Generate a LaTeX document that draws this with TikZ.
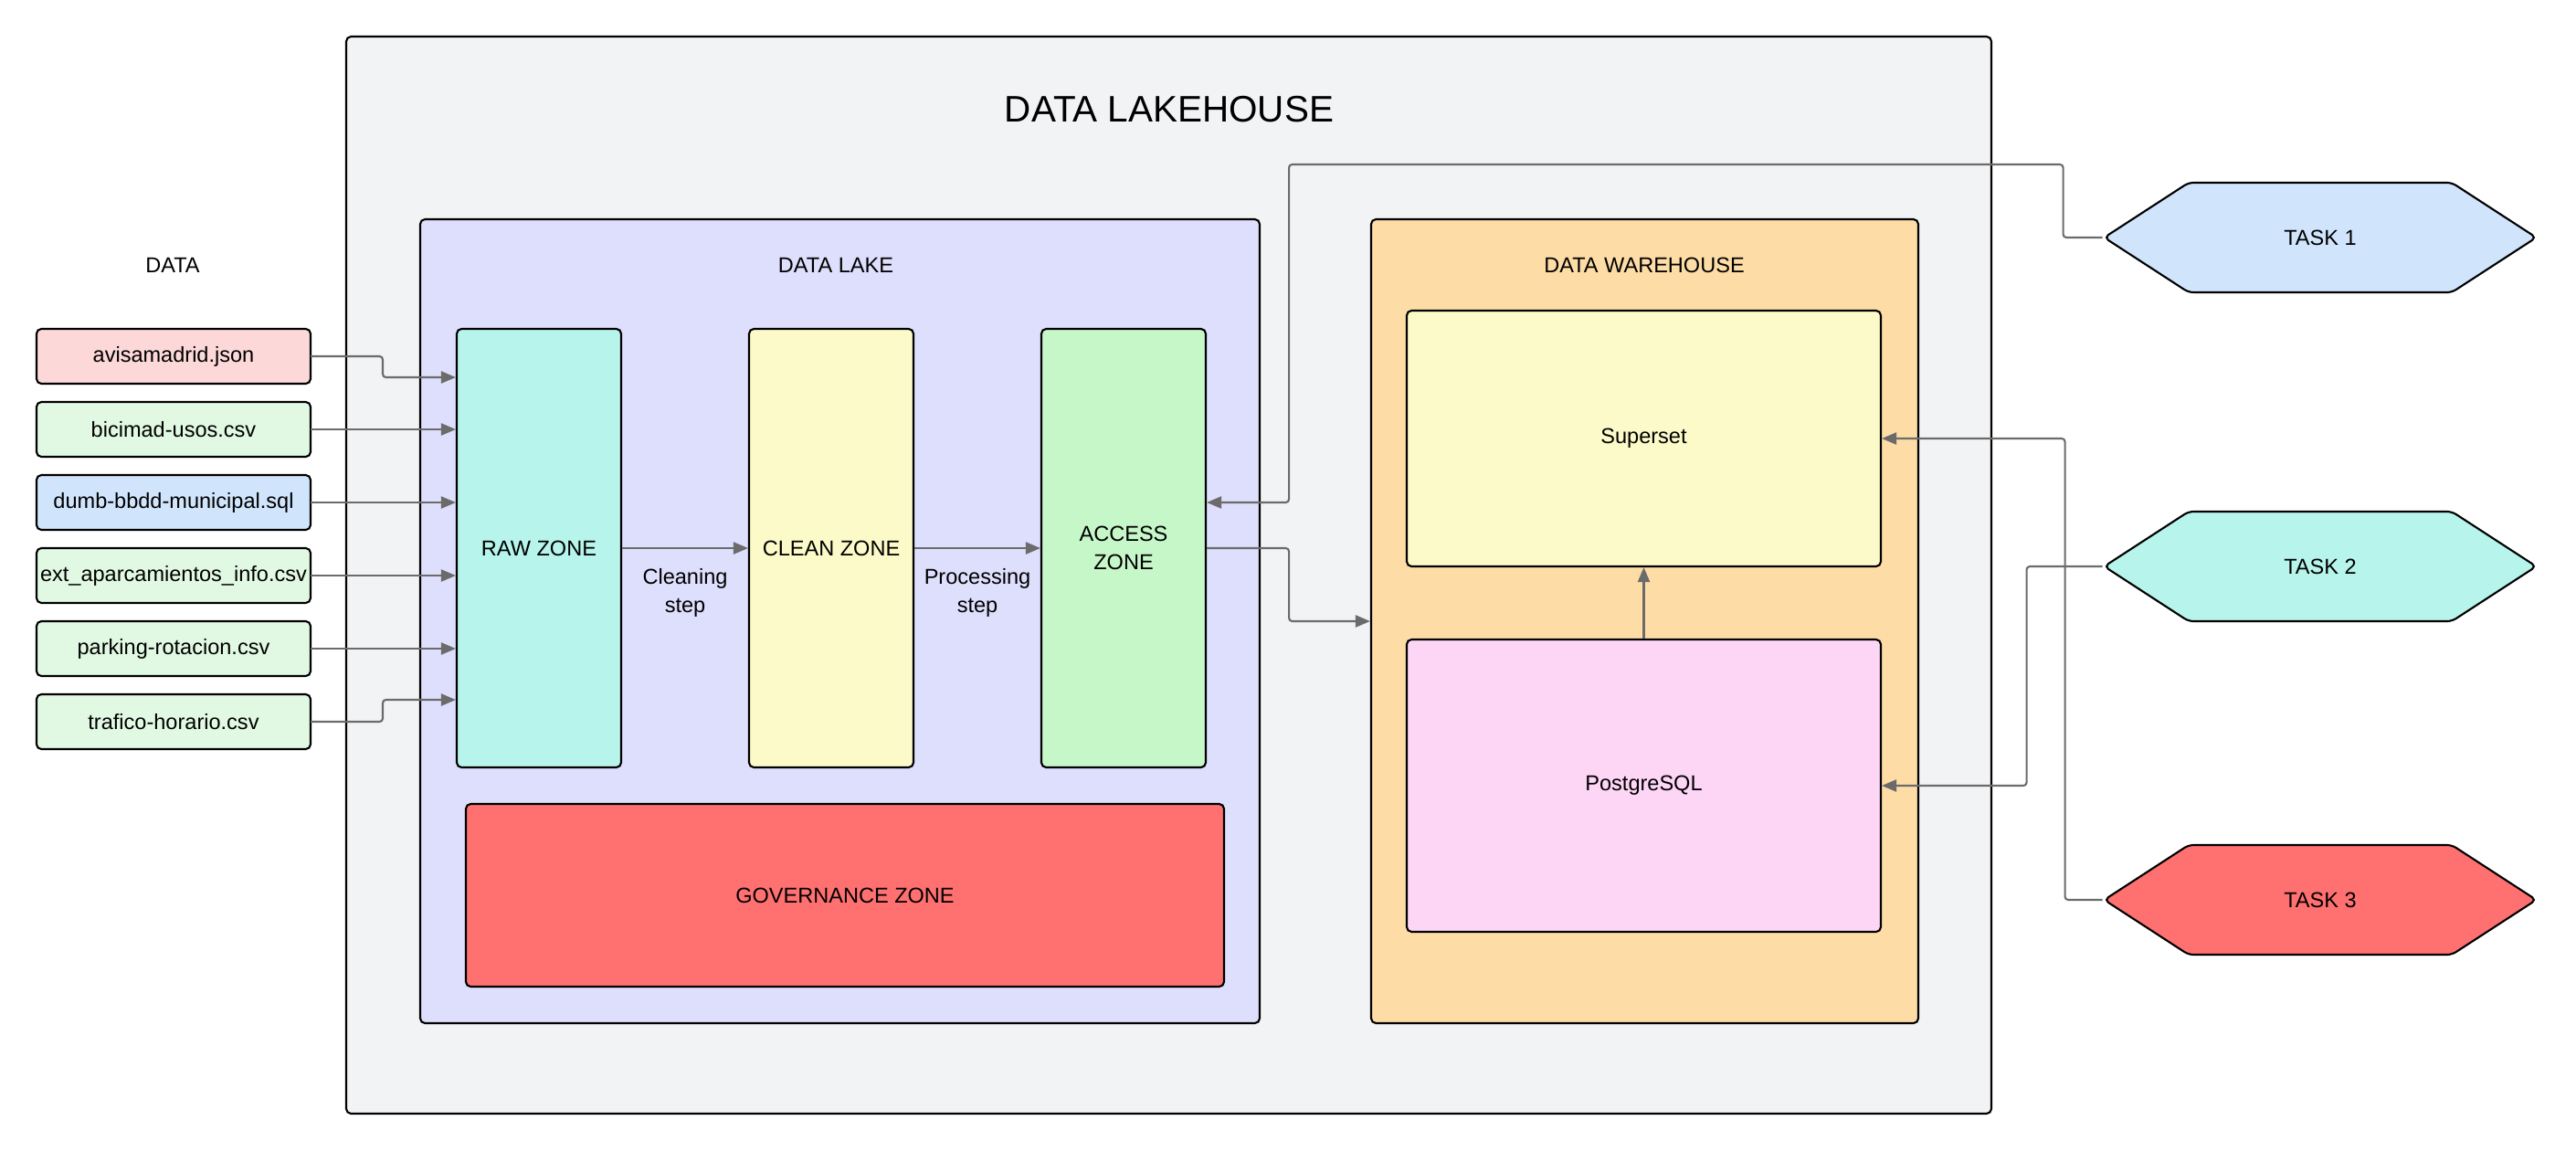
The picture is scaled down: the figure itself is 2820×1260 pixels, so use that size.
\documentclass[tikz,border=0pt]{standalone}
\usepackage{fontspec}
\setmainfont{Liberation Sans}
\usetikzlibrary{positioning,shapes.symbols,arrows.meta,calc}
\definecolor{lhgray}{HTML}{F2F3F5}
\definecolor{lakeblue}{HTML}{DEDEFD}
\definecolor{dworange}{HTML}{FDDCA6}
\definecolor{aqua}{HTML}{B6F4EC}
\definecolor{paleyellow}{HTML}{FCFAC8}
\definecolor{palegreen}{HTML}{C6F7C9}
\definecolor{govred}{HTML}{FF7070}
\definecolor{palepink}{HTML}{FDD5F5}
\definecolor{paleblue}{HTML}{D0E4FC}
\definecolor{srcpink}{HTML}{FDD8D9}
\definecolor{srcgreen}{HTML}{E1F9E3}
\definecolor{linkgray}{HTML}{6B6B6B}
\tikzset{
  frame/.style={draw, rounded corners=1.5pt, line width=0.6pt},
  zone/.style={frame, minimum width=18mm, minimum height=48mm, align=center},
  src/.style={frame, minimum width=30mm, minimum height=6mm, inner xsep=0.3mm, outer sep=0pt},
  wbox/.style={frame, minimum width=51.9mm, align=center},
  task/.style={draw, line width=0.6pt, shape=signal, signal to=west and east,
    signal pointer angle=66, minimum width=47.3mm, minimum height=12mm, rounded corners=1.5pt},
  link/.style={draw=linkgray, line width=0.6pt, -{Triangle[length=1.6mm,width=1.3mm]}, rounded corners=1pt},
}

\begin{document}
\begin{tikzpicture}[x=0.1mm, y=0.1mm, node distance=2mm, font=\fontsize{6.7}{9}\selectfont]
\useasboundingbox (0,0) rectangle (2820,-1260);

% containers
\node (lakehouse) [frame, fill=lhgray, minimum width=180.1mm, minimum height=117.9mm] at (1279.5,-629.5) {};
\node (lhtitle) [font=\fontsize{11.5}{14}\selectfont] at (1280,-120) {DATA LAKEHOUSE};
\node (lake) [frame, fill=lakeblue, minimum width=91.9mm, minimum height=88mm] at (919.5,-680) {};
\node (laketitle) at (915,-290) {DATA LAKE};
\node (dw) [frame, fill=dworange, minimum width=59.9mm, minimum height=88mm] at (1800.5,-680) {};
\node (dwtitle) at (1800,-290) {DATA WAREHOUSE};

% lake zones
\node (raw)    [zone, fill=aqua]       at (590,-600)  {RAW ZONE};
\node (clean)  [zone, fill=paleyellow] at (910,-600)  {CLEAN ZONE};
\node (access) [zone, fill=palegreen]  at (1230,-600) {ACCESS\\ZONE};
\node (gov) [frame, fill=govred, minimum width=83mm, minimum height=20mm] at (925,-980) {GOVERNANCE ZONE};

% warehouse
\node (superset) [wbox, fill=paleyellow, minimum height=28mm] at (1799.5,-480) {Superset};
\node (postgres) [wbox, fill=palepink, minimum height=32mm] at (1799.5,-860) {PostgreSQL};

% data sources
\node (datatitle) at (189,-290) {DATA};
\node (avisa)   [src, fill=srcpink] at (190,-390) {avisamadrid.json};
\node (bici)    [src, fill=srcgreen, below=of avisa] {bicimad-usos.csv};
\node (dumb)    [src, fill=paleblue, below=of bici] {dumb-bbdd-municipal.sql};
\node (ext)     [src, fill=srcgreen, below=of dumb] {ext\_aparcamientos\_info.csv};
\node (parking) [src, fill=srcgreen, below=of ext] {parking-rotacion.csv};
\node (trafico) [src, fill=srcgreen, below=of parking] {trafico-horario.csv};

% tasks
\node (task1) [task, fill=paleblue] at (2540,-260) {TASK 1};
\node (task2) [task, fill=aqua]     at (2540,-620) {TASK 2};
\node (task3) [task, fill=govred]   at (2540,-985) {TASK 3};

% ingestion
\draw[link] (avisa.east) -- ++(7.9mm,0) |- ([yshift=18.7mm]raw.west);
\foreach \s in {bici,dumb,ext,parking}
  \draw[link] (\s.east) -- (\s.east -| raw.west);
\draw[link] (trafico.east) -- ++(7.9mm,0) |- ([yshift=-16.6mm]raw.west);

% main path
\draw[link] (raw) -- (clean) node[midway, yshift=-4.9mm, align=center] {Cleaning\\step};
\draw[link] (clean) -- (access) node[midway, yshift=-4.9mm, align=center] {Processing\\step};
\draw[link] (access.east) -- ++(9mm,0) |- (dw.west);
\draw[link] (postgres) -- (superset);

% tasks to layers
\draw[link] (task1.west) -- ++(-4.3mm,0) -- ++(0,8mm) -| ([xshift=9mm,yshift=5mm]access.east) -- ([yshift=5mm]access.east);
\draw[link] (task2.west) -- ++(-8.3mm,0) |- (postgres.east);
\draw[link] (task3.west) -- ++(-4.1mm,0) |- (superset.east);
\end{tikzpicture}
\end{document}
